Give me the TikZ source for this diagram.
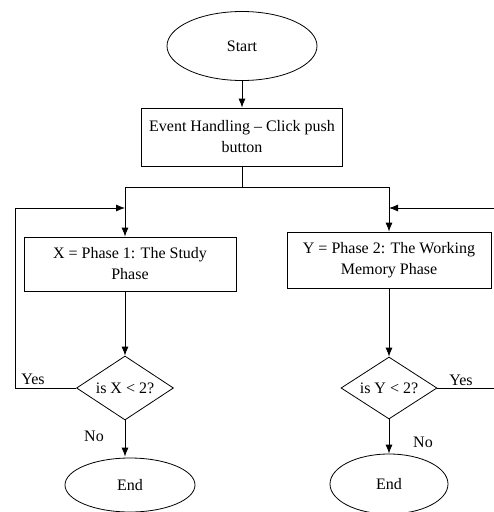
\documentclass[tikz,border=0pt]{standalone}
\usepackage{fontspec}
\setmainfont{Liberation Serif}
\usetikzlibrary{shapes.geometric,arrows.meta}
\begin{document}
\begin{tikzpicture}[x=1pt,y=-1pt,
  every node/.style={font=\fontsize{16}{21}\selectfont},
  line/.style={draw=black,line width=0.8pt},
  arr/.style={line,-{Latex[length=9pt,width=7pt]}},
  term/.style={ellipse,draw,line width=0.8pt,inner sep=0pt},
  procbox/.style={rectangle,draw,line width=0.8pt,align=center,inner sep=0pt},
  decide/.style={diamond,draw,line width=0.8pt,inner sep=0pt,aspect=1.5},
  lbl/.style={inner sep=0pt}]
\useasboundingbox (0,0) rectangle (494,512);
\node[term,minimum width=150pt,minimum height=69pt] (start) at (242,46) {Start};
\node[procbox,minimum width=201pt,minimum height=58pt] (event) at (242,137) {Event Handling -- Click push\\button};
\node[procbox,minimum width=212pt,minimum height=54pt] (box1) at (130,264) {X = Phase 1: The Study\\Phase};
\node[procbox,minimum width=204pt,minimum height=56pt] (box2) at (389,260) {Y = Phase 2: The Working\\Memory Phase};
\node[decide,minimum width=97pt,minimum height=64pt] (d1) at (125,388) {is X < 2?};
\node[decide,minimum width=96pt,minimum height=62pt] (d2) at (389,388) {is Y < 2?};
\node[term,minimum width=130pt,minimum height=54pt] (end1) at (130,485) {End};
\node[term,minimum width=118pt,minimum height=60pt] (end2) at (389,484) {End};
\coordinate (j) at (242,187);
\coordinate (jl) at (125,187);
\coordinate (jr) at (389,187);
\coordinate (l1) at (15,388);
\coordinate (l2) at (15,208);
\coordinate (m1) at (125,208);
\coordinate (r1) at (494,388);
\coordinate (r2) at (494,208);
\coordinate (m2) at (389,208);
\draw[arr] (start.south) -- (event.north);
\draw[line] (event.south) -- (j);
\draw[line] (jl) -- (jr);
\draw[arr] (jl) -- (jl |- box1.north);
\draw[arr] (jr) -- (box2.north);
\draw[arr] (d1 |- box1.south) -- (d1.north);
\draw[arr] (d2 |- box2.south) -- (d2.north);
\draw[arr] (d1.south) -- ([yshift=1pt]d1.south |- end1.north);
\draw[arr] (d2.south) -- (end2.north);
\draw[arr] (d1.west) -- (l1) -- (l2) -- (m1);
\draw[line] (d2.east) -- (r1);
\draw[arr] (r2) -- (m2);
\node[lbl] (yes1) at (33,379) {Yes};
\node[lbl] (no1) at (94,436) {No};
\node[lbl] (yes2) at (461,380) {Yes};
\node[lbl] (no2) at (423,442) {No};
\end{tikzpicture}
\end{document}
